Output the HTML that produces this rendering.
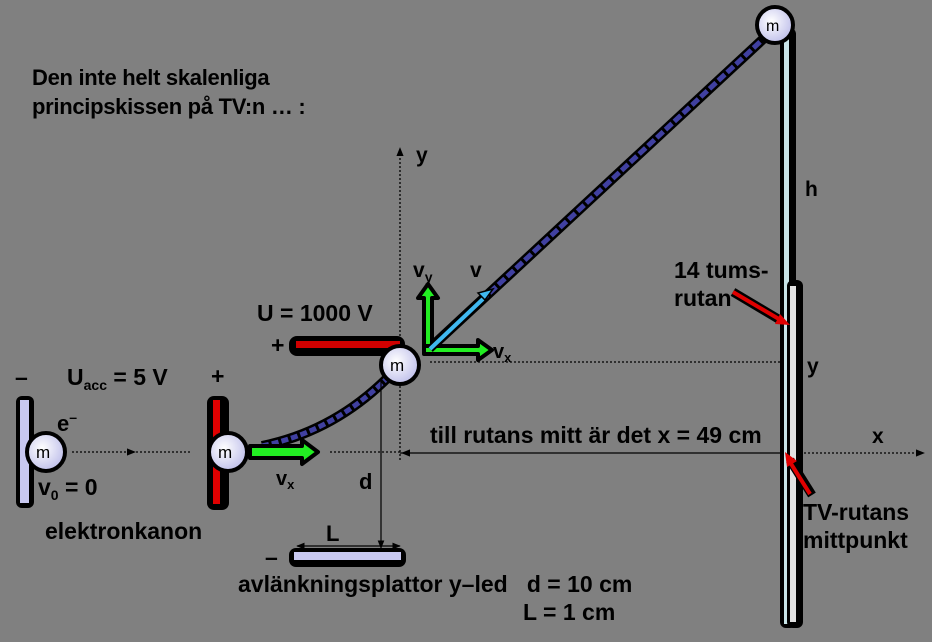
<!DOCTYPE html>
<html><head><meta charset="utf-8"><style>
html,body{margin:0;padding:0;background:#808080;}
svg{display:block;}
text{font-family:"Liberation Sans",Arial,sans-serif;font-weight:bold;fill:#000;}
</style></head><body>
<svg width="932" height="642" viewBox="0 0 932 642" xmlns="http://www.w3.org/2000/svg">
<defs>
<marker id="ah" viewBox="0 0 10 10" refX="9" refY="5" markerWidth="7" markerHeight="7" orient="auto"><path d="M0,1 L10,5 L0,9 z" fill="#000"/></marker>
<radialGradient id="mg" cx="0.4" cy="0.4" r="0.7"><stop offset="0" stop-color="#fff"/><stop offset="1" stop-color="#b8b8e8"/></radialGradient>
</defs>
<rect width="932" height="642" fill="#808080"/>
<text x="32" y="85" font-size="22" letter-spacing="-0.3">Den inte helt skalenliga</text>
<text x="32" y="114" font-size="22" letter-spacing="-0.3">principskissen på TV:n  … :</text>

<line x1="400" y1="460" x2="400" y2="148" stroke="#000" stroke-width="1.3" stroke-dasharray="2,2" marker-end="url(#ah)"/>
<text x="416" y="162" font-size="21">y</text>
<line x1="400" y1="453" x2="924" y2="453" stroke="#000" stroke-width="1.3" stroke-dasharray="2,2" marker-end="url(#ah)"/>
<line x1="780" y1="453" x2="402" y2="453" stroke="#000" stroke-width="1.3" marker-end="url(#ah)" stroke-dasharray="2,2"/>
<text x="872" y="443" font-size="21">x</text>
<line x1="72" y1="452" x2="135" y2="452" stroke="#000" stroke-width="1.3" stroke-dasharray="2,2" marker-end="url(#ah)"/>
<line x1="132" y1="452" x2="190" y2="452" stroke="#000" stroke-width="1.3" stroke-dasharray="2,2"/>
<line x1="330" y1="452" x2="400" y2="452" stroke="#000" stroke-width="1.3" stroke-dasharray="2,2"/>
<line x1="430" y1="362" x2="790" y2="362" stroke="#000" stroke-width="1.3" stroke-dasharray="2,2"/>

<rect x="16" y="396" width="18" height="112" rx="6" fill="#000"/>
<rect x="20" y="400" width="9" height="103" fill="#c8c8f0"/>
<rect x="207" y="396" width="22" height="114" rx="7" fill="#000"/>
<rect x="213" y="400" width="7" height="104" fill="#e00000"/>

<path d="M262,446 Q340,430 397,368" fill="none" stroke="#000" stroke-width="10"/>
<path d="M262,446 Q340,430 397,368" fill="none" stroke="#4040a0" stroke-width="5" stroke-dasharray="7,3"/>
<line x1="428" y1="350" x2="775" y2="28" stroke="#000" stroke-width="10"/>
<line x1="428" y1="350" x2="775" y2="28" stroke="#4040a0" stroke-width="5" stroke-dasharray="9,3"/>

<rect x="289" y="336" width="116" height="20" rx="8" fill="#000"/>
<rect x="296" y="341" width="104" height="7" fill="#d00000"/>
<text x="271" y="353" font-size="23">+</text>
<rect x="289" y="548" width="117" height="19" rx="7" fill="#000"/>
<rect x="294" y="552" width="107" height="8" fill="#c8c8f0"/>
<text x="265" y="565" font-size="23">–</text>
<line x1="381" y1="380" x2="381" y2="548" stroke="#000" stroke-width="1.2" marker-end="url(#ah)"/>
<line x1="340" y1="546" x2="297" y2="546" stroke="#000" stroke-width="1.2" marker-end="url(#ah)"/>
<line x1="340" y1="546" x2="400" y2="546" stroke="#000" stroke-width="1.2" marker-end="url(#ah)"/>

<path d="M250,446 h52 v-6 l16,12 l-16,12 v-6 h-52z" fill="#22ee22" stroke="#000" stroke-width="4" stroke-linejoin="round"/>
<path d="M424,352 v-54 h-6 l10,-14 l10,14 h-6 v54z" fill="#22ee22" stroke="#000" stroke-width="4" stroke-linejoin="round"/>
<path d="M424,346 h54 v-6 l14,10 l-14,10 v-6 h-54z" fill="#22ee22" stroke="#000" stroke-width="4" stroke-linejoin="round"/>
<line x1="430" y1="349" x2="484" y2="298" stroke="#000" stroke-width="8"/>
<line x1="430" y1="349" x2="484" y2="298" stroke="#40b8f0" stroke-width="4"/>
<path d="M493,289 l-15,4 l7,7z" fill="#40b8f0" stroke="#000" stroke-width="1.5"/>

<rect x="780" y="28" width="16" height="600" rx="6" fill="#000"/>
<rect x="784" y="32" width="5" height="592" fill="#c8e4e8"/>
<rect x="787" y="280" width="16" height="348" rx="6" fill="#000"/>
<rect x="790" y="286" width="6" height="336" fill="#e0e0e0"/>

<line x1="733" y1="292" x2="780" y2="320" stroke="#000" stroke-width="9"/>
<line x1="733" y1="292" x2="784" y2="322" stroke="#e00000" stroke-width="4"/>
<path d="M790,325 l-15,-1 l5,-10z" fill="#e00000"/>
<line x1="812" y1="495" x2="790" y2="460" stroke="#000" stroke-width="9"/>
<line x1="810" y1="494" x2="788" y2="459" stroke="#e00000" stroke-width="4"/>
<path d="M785,452 l2,15 l10,-6z" fill="#e00000"/>

<g stroke="#000" stroke-width="4" fill="url(#mg)">
<circle cx="46" cy="452" r="19"/>
<circle cx="228" cy="452" r="19"/>
<circle cx="400" cy="365" r="19"/>
<circle cx="775" cy="25" r="18"/>
</g>
<text x="36" y="458" font-size="17" style="font-weight:normal">m</text>
<text x="218" y="458" font-size="17" style="font-weight:normal">m</text>
<text x="390" y="371" font-size="17" style="font-weight:normal">m</text>
<text x="766" y="31" font-size="16" style="font-weight:normal">m</text>

<text x="15" y="385" font-size="23">–</text>
<text x="67" y="385" font-size="23">U<tspan font-size="14" dy="5">acc</tspan><tspan dy="-5"> = 5 V</tspan></text>
<text x="211" y="384" font-size="23">+</text>
<text x="57" y="431" font-size="22">e<tspan font-size="14" dy="-9">–</tspan></text>
<text x="38" y="495" font-size="23">v<tspan font-size="14" dy="5">0</tspan><tspan dy="-5"> = 0</tspan></text>
<text x="45" y="539" font-size="23">elektronkanon</text>
<text x="276" y="485" font-size="20">v<tspan font-size="13" dy="4">x</tspan></text>
<text x="359" y="489" font-size="22">d</text>
<text x="326" y="541" font-size="22">L</text>
<text x="238" y="592" font-size="23" xml:space="preserve">avlänkningsplattor y–led   d = 10 cm</text>
<text x="523" y="620" font-size="23">L = 1 cm</text>
<text x="257" y="321" font-size="23">U = 1000 V</text>
<text x="413" y="277" font-size="21">v<tspan font-size="14" dy="5">y</tspan></text>
<text x="470" y="277" font-size="21">v</text>
<text x="493" y="358" font-size="20">v<tspan font-size="13" dy="4">x</tspan></text>
<text x="430" y="443" font-size="23">till rutans mitt är det x = 49 cm</text>
<text x="805" y="196" font-size="21">h</text>
<text x="674" y="278" font-size="23">14 tums-</text>
<text x="674" y="306" font-size="23">rutan</text>
<text x="807" y="373" font-size="21">y</text>
<text x="803" y="520" font-size="23">TV-rutans</text>
<text x="803" y="548" font-size="23">mittpunkt</text>
</svg>
</body></html>
